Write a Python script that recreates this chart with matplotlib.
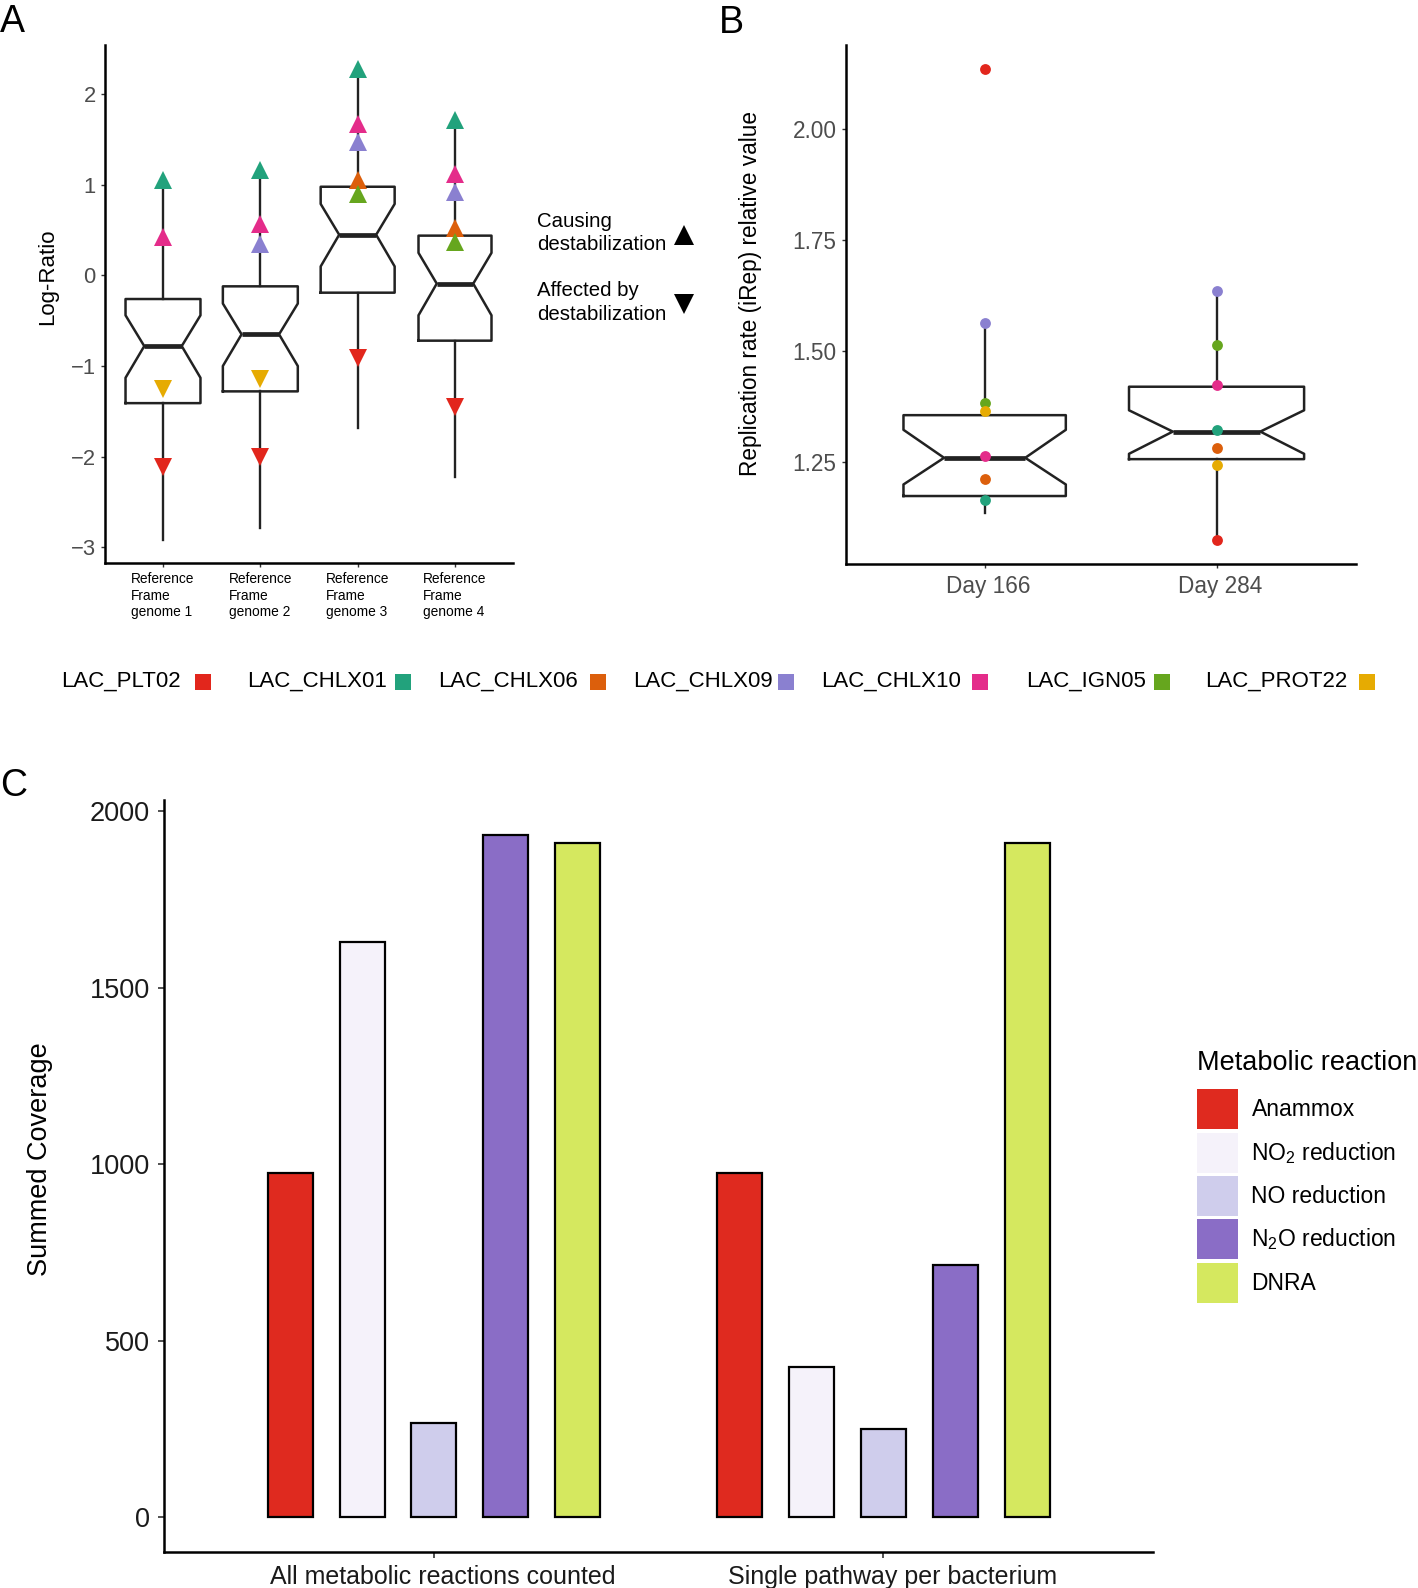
import matplotlib
matplotlib.use("Agg")
import matplotlib.pyplot as plt
import numpy as np
from matplotlib.lines import Line2D
from matplotlib.patches import Patch
from matplotlib.transforms import ScaledTranslation

plt.rcParams['font.family'] = ['Liberation Sans', 'DejaVu Sans']
plt.rcParams['mathtext.fontset'] = 'custom'
plt.rcParams['mathtext.rm'] = 'Liberation Sans'
plt.rcParams['mathtext.default'] = 'regular'

# strains highlighted in A and B
strains = ['LAC_PLT02', 'LAC_CHLX01', 'LAC_CHLX06', 'LAC_CHLX09',
           'LAC_CHLX10', 'LAC_IGN05', 'LAC_PROT22']
strain_colors = ['#E2261C', '#22A27C', '#DC5F0C', '#8A80D0',
                 '#E42C8A', '#66A61E', '#E6AB02']

# panel A: box stats per reference genome
genomes = ['Reference\nFrame\ngenome 1', 'Reference\nFrame\ngenome 2',
           'Reference\nFrame\ngenome 3', 'Reference\nFrame\ngenome 4']
lr_q1 = [-1.41, -1.28, -0.19, -0.72]
lr_med = [-0.78, -0.65, 0.45, -0.09]
lr_q3 = [-0.26, -0.12, 0.98, 0.44]
lr_notch_lo = [-1.13, -1.00, 0.10, -0.44]
lr_notch_hi = [-0.44, -0.31, 0.79, 0.25]
lr_whisk_lo = [-2.92, -2.79, -1.69, -2.23]
lr_whisk_hi = [1.00, 1.12, 2.25, 1.70]

# log-ratio of each strain per genome (nan = not plotted)
nan = np.nan
log_ratio = {
    'LAC_PLT02':  [-2.12, -2.00, -0.91, -1.45],
    'LAC_CHLX01': [1.05, 1.17, 2.28, 1.72],
    'LAC_CHLX06': [nan, nan, 1.05, 0.52],
    'LAC_CHLX09': [nan, 0.35, 1.47, 0.92],
    'LAC_CHLX10': [0.42, 0.57, 1.67, 1.12],
    'LAC_IGN05':  [nan, nan, 0.90, 0.37],
    'LAC_PROT22': [-1.25, -1.14, nan, nan],
}

# panel B: iRep boxes
days = ['Day 166', 'Day 284']
ir_q1 = [1.173, 1.256]
ir_med = [1.259, 1.318]
ir_q3 = [1.355, 1.419]
ir_notch_lo = [1.199, 1.268]
ir_notch_hi = [1.322, 1.366]
ir_whisk_lo = [1.135, 1.073]
ir_whisk_hi = [1.563, 1.634]
irep = {
    'LAC_PLT02':  [2.134, 1.073],
    'LAC_CHLX01': [1.163, 1.322],
    'LAC_CHLX06': [1.212, 1.282],
    'LAC_CHLX09': [1.563, 1.634],
    'LAC_CHLX10': [1.263, 1.423],
    'LAC_IGN05':  [1.383, 1.513],
    'LAC_PROT22': [1.364, 1.243],
}

# panel C
groups = ['All metabolic reactions counted', 'Single pathway per bacterium']
reactions = ['Anammox', 'NO$_2$ reduction', 'NO reduction', 'N$_2$O reduction', 'DNRA']
reaction_colors = ['#DF2A1F', '#F5F2FA', '#CFCDEC', '#8A6DC6', '#D5E85F']
all_counted = [976, 1630, 268, 1933, 1909]
single_pathway = [976, 427, 250, 715, 1909]

W, H = 1418, 1588
fig = plt.figure(figsize=(W / 100, H / 100), dpi=100)


def frame(l, t, r, b):
    return [l / W, 1 - b / H, (r - l) / W, (b - t) / H]


def classic(ax):
    for s in ['top', 'right']:
        ax.spines[s].set_visible(False)
    for s in ['left', 'bottom']:
        ax.spines[s].set_linewidth(1.8)
        ax.spines[s].set_color('black')


def shift_xlabels(ax, dx_px):
    off = ScaledTranslation(dx_px / 100, 0, fig.dpi_scale_trans)
    for lab in ax.get_xticklabels():
        lab.set_transform(lab.get_transform() + off)


line_col = '#222222'
box_kw = dict(shownotches=True, showcaps=False, showfliers=False,
              boxprops=dict(color=line_col, lw=1.8),
              whiskerprops=dict(color=line_col, lw=1.7),
              medianprops=dict(color=line_col, lw=3.4, solid_capstyle='butt'))

# ---------------- A ----------------
axA = fig.add_axes(frame(104.6, 45.5, 513.4, 563.4))
classic(axA)
statsA = [dict(med=lr_med[i], q1=lr_q1[i], q3=lr_q3[i], whislo=lr_whisk_lo[i],
               whishi=lr_whisk_hi[i], cilo=lr_notch_lo[i], cihi=lr_notch_hi[i],
               fliers=[]) for i in range(4)]
axA.bxp(statsA, positions=[1, 2, 3, 4], widths=[0.77, 0.77, 0.76, 0.75], **box_kw)
xA = np.arange(1, 5)
for name, col in zip(strains, strain_colors):
    vals = np.array(log_ratio[name])
    up = vals > 0
    dn = vals < 0
    axA.plot(xA[up], vals[up], ls='', marker='^', ms=12.5, color=col, mew=0, zorder=3)
    axA.plot(xA[dn], vals[dn], ls='', marker='v', ms=12.5, color=col, mew=0, zorder=3)
axA.set_xlim(0.4, 4.6)
axA.set_ylim(-3.18, 2.54)
axA.set_yticks([-3, -2, -1, 0, 1, 2])
axA.set_xticks(xA)
axA.set_xticklabels(genomes, fontsize=9.9, linespacing=1.22, multialignment='left')
axA.tick_params(axis='y', labelsize=15.8, labelcolor='#4D4D4D', length=3, width=1,
                color='#333333', pad=3.3)
axA.tick_params(axis='x', length=3, width=1, color='#333333', pad=3.3)
fig.text(47.6 / W, 1 - 277 / H, 'Log-Ratio', rotation=90, ha='center', va='center', fontsize=16)

# shape key
fig.text(537 / W, 1 - 233 / H, 'Causing\ndestabilization', ha='left', va='center',
         fontsize=14.7, linespacing=1.33)
fig.text(537 / W, 1 - 302.5 / H, 'Affected by\ndestabilization', ha='left', va='center',
         fontsize=14.7, linespacing=1.33)
fig.add_artist(Line2D([684 / W], [1 - 235 / H], marker='^', ms=14, color='black', mew=0,
                      transform=fig.transFigure))
fig.add_artist(Line2D([684 / W], [1 - 304 / H], marker='v', ms=14, color='black', mew=0,
                      transform=fig.transFigure))

# ---------------- B ----------------
axB = fig.add_axes(frame(845.5, 45.5, 1355.7, 564))
classic(axB)
statsB = [dict(med=ir_med[i], q1=ir_q1[i], q3=ir_q3[i], whislo=ir_whisk_lo[i],
               whishi=ir_whisk_hi[i], cilo=ir_notch_lo[i], cihi=ir_notch_hi[i],
               fliers=[]) for i in range(2)]
axB.bxp(statsB, positions=[1, 2], widths=[0.70, 0.755], **box_kw)
for name, col in zip(strains, strain_colors):
    axB.plot([1, 2], irep[name], ls='', marker='o', ms=7.8, color=col, mew=0, zorder=3)
axB.set_xlim(0.4, 2.6)
axB.set_ylim(1.02, 2.187)
axB.set_yticks([1.25, 1.5, 1.75, 2.0])
axB.set_yticklabels(['1.25', '1.50', '1.75', '2.00'])
axB.set_xticks([1, 2])
axB.set_xticklabels(days)
axB.tick_params(axis='both', labelsize=16.3, labelcolor='#4D4D4D', length=3, width=1,
                color='#333333')
axB.tick_params(axis='y', pad=3.3)
axB.tick_params(axis='x', pad=5)
shift_xlabels(axB, 4)
fig.text(750.6 / W, 1 - 293.7 / H, 'Replication rate (iRep) relative value', rotation=90,
         ha='center', va='center', fontsize=16.3)

# strain key row (label then coloured square)
key_text_x = [61.4, 246.8, 437.7, 632.7, 821.3, 1025.8, 1205.4]
key_box_x = [202.5, 403.0, 598.4, 786.3, 979.6, 1161.7, 1367.2]
for name, col, tx, bx in zip(strains, strain_colors, key_text_x, key_box_x):
    fig.text(tx / W, 1 - 681 / H, name, ha='left', va='center', fontsize=16)
    fig.add_artist(Line2D([bx / W], [1 - 681.5 / H], marker='s', ms=11.8, color=col, mew=0,
                          transform=fig.transFigure))

# ---------------- C ----------------
axC = fig.add_axes(frame(164.3, 800, 1153, 1551.5))
classic(axC)
xC = np.arange(1, 3)
offsets = (np.arange(5) - 2) * 0.16
for k in range(5):
    axC.bar(xC + offsets[k], [all_counted[k], single_pathway[k]], width=0.1,
            color=reaction_colors[k], edgecolor='black', linewidth=1.6)
axC.set_xlim(0.4, 2.6)
axC.set_ylim(-96.75, 2031.75)
axC.set_yticks([0, 500, 1000, 1500, 2000])
axC.set_xticks(xC)
axC.set_xticklabels(groups, fontsize=18)
axC.tick_params(axis='y', labelsize=19.5, labelcolor='#1A1A1A', length=4.5, width=1.2,
                color='#333333', pad=6)
axC.tick_params(axis='x', labelcolor='#1A1A1A', length=4.5, width=1.2,
                color='#333333', pad=5.4)
shift_xlabels(axC, 9)
fig.text(40.5 / W, 1 - 1158.8 / H, 'Summed Coverage', rotation=90, ha='center',
         va='center', fontsize=19.5)

fig.text(1196.7 / W, 1 - 1070 / H, 'Metabolic reaction', ha='left', va='baseline',
         fontsize=19.5)
react_handles = [Patch(facecolor=c, edgecolor='none') for c in reaction_colors]
fig.legend(react_handles, reactions, loc='upper left',
           bbox_to_anchor=(1196.7 / W, 1 - 1089.3 / H), frameon=False, fontsize=16.5,
           handlelength=1.79, handleheight=2.31, labelspacing=0.145, handletextpad=0.6,
           borderpad=0, borderaxespad=0)

# panel letters
fig.text(0 / W, 1 - 4 / H, 'A', ha='left', va='top', fontsize=27)
fig.text(719 / W, 1 - 5 / H, 'B', ha='left', va='top', fontsize=27)
fig.text(0 / W, 1 - 768 / H, 'C', ha='left', va='top', fontsize=27)

fig.savefig('out.png', dpi=100)
